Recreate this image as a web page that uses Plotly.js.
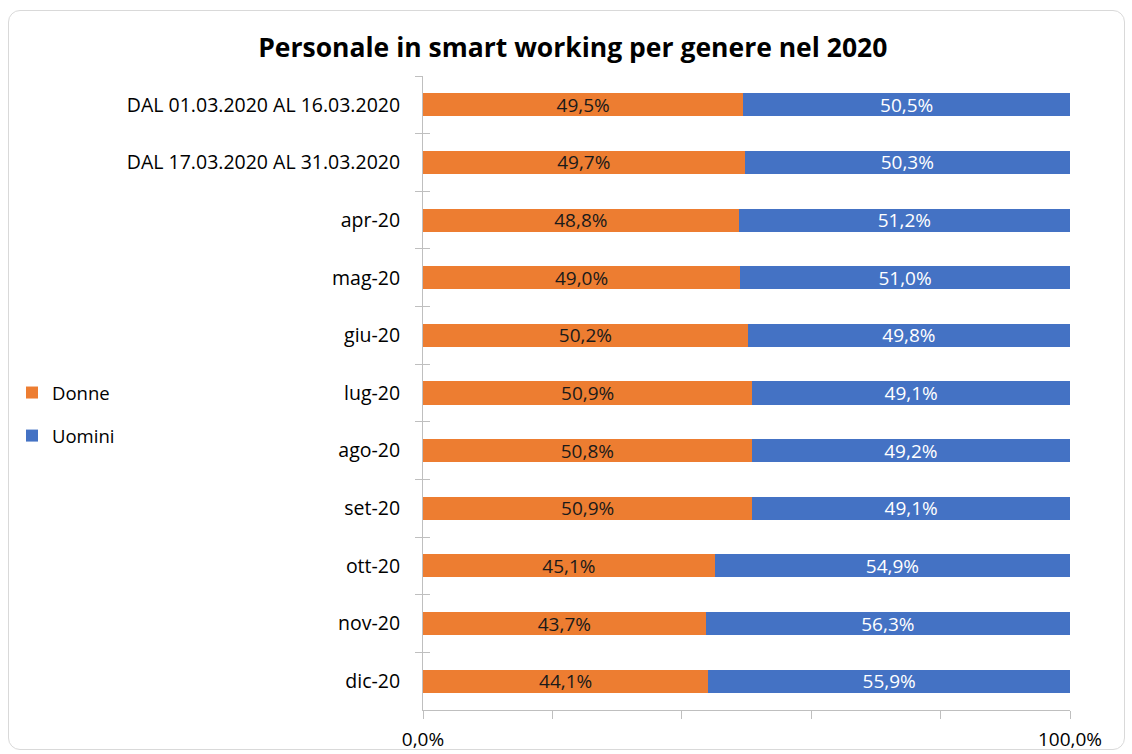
<!DOCTYPE html>
<html>
<head>
<meta charset="utf-8">
<script src="https://cdn.plot.ly/plotly-3.0.1.min.js"></script>
<style>
  html, body { margin: 0; padding: 0; background: #ffffff; }
  #frame { position: absolute; left: 8px; top: 10px; width: 1117px; height: 740px;
           border: 1px solid #d9d9d9; border-radius: 12px; box-sizing: border-box; }
  #chart { position: absolute; left: 0; top: 0; width: 1132px; height: 754px; }
</style>
</head>
<body>
<div id="frame"></div>
<div id="chart"></div>
<script>
const categories = [
  "DAL 01.03.2020 AL 16.03.2020",
  "DAL 17.03.2020 AL 31.03.2020",
  "apr-20", "mag-20", "giu-20", "lug-20", "ago-20", "set-20",
  "ott-20", "nov-20", "dic-20"
];
const donne  = [49.5, 49.7, 48.8, 49.0, 50.2, 50.9, 50.8, 50.9, 45.1, 43.7, 44.1];
const uomini = [50.5, 50.3, 51.2, 51.0, 49.8, 49.1, 49.2, 49.1, 54.9, 56.3, 55.9];
const xTickVals = [0, 0.2, 0.4, 0.6, 0.8, 1.0];
const xTickText = ["0,0%", "", "", "", "", "100,0%"];

const fmt = v => v.toFixed(1).replace('.', ',') + '%';
const FONT = '"Open Sans", "Noto Sans", sans-serif';

const traces = [
  {
    type: 'bar', orientation: 'h', name: 'Donne', legendgroup: 'd',
    y: categories, x: donne.map(v => v / 100),
    marker: { color: '#ED7D31' },
    text: donne.map(fmt), textposition: 'inside', insidetextanchor: 'middle',
    constraintext: 'none',
    textfont: { color: '#1a1a1a', size: 19, family: FONT },
    hoverinfo: 'skip'
  },
  {
    type: 'bar', orientation: 'h', name: 'Uomini', legendgroup: 'u',
    y: categories, x: uomini.map(v => v / 100),
    marker: { color: '#4472C4' },
    text: uomini.map(fmt), textposition: 'inside', insidetextanchor: 'middle',
    constraintext: 'none',
    textfont: { color: '#ffffff', size: 19, family: FONT },
    hoverinfo: 'skip'
  },
  {
    // invisible overlay trace used only to draw inside tick marks on the y axis
    type: 'bar', orientation: 'h', name: '', showlegend: false,
    y: categories, x: categories.map(() => 0), yaxis: 'y2',
    hoverinfo: 'skip', marker: { color: 'rgba(0,0,0,0)' }
  }
];

const layout = {
  width: 1132, height: 754,
  margin: { l: 423, r: 62, t: 76, b: 44 },
  paper_bgcolor: 'rgba(0,0,0,0)', plot_bgcolor: 'rgba(0,0,0,0)',
  barmode: 'stack', bargap: 0.6,
  font: { family: FONT, size: 19, color: '#262626' },
  title: {
    text: '<b>Personale in smart working per genere nel 2020</b>',
    font: { family: FONT, size: 26.5, color: '#000000' },
    xref: 'container', x: 0.506, xanchor: 'center',
    yref: 'container', y: 1 - 48 / 754, yanchor: 'middle'
  },
  showlegend: true,
  legend: {
    xref: 'container', yref: 'container',
    x: 0.0106, y: 1 - 374 / 754, xanchor: 'left', yanchor: 'top',
    traceorder: 'grouped', font: { family: FONT, size: 18.5, color: '#000' },
    itemwidth: 30, tracegroupgap: 16
  },
  xaxis: {
    range: [0, 1], tickvals: xTickVals, ticktext: xTickText,
    showgrid: false, zeroline: false,
    showline: true, linecolor: '#bfbfbf', linewidth: 1,
    ticks: 'outside', ticklen: 8, tickcolor: '#bfbfbf', ticklabelstandoff: 4,
    tickfont: { size: 19, color: '#000' }, fixedrange: true
  },
  yaxis: {
    type: 'category', categoryorder: 'array', categoryarray: categories,
    autorange: 'reversed',
    showgrid: false, zeroline: false,
    showline: true, linecolor: '#bfbfbf', linewidth: 1,
    ticks: 'outside', tickson: 'boundaries', ticklen: 7, tickcolor: '#bfbfbf',
    ticklabelstandoff: 18,
    tickfont: { size: 19.5, color: '#000' }, fixedrange: true
  },
  yaxis2: {
    type: 'category', categoryorder: 'array', categoryarray: categories,
    autorange: 'reversed', overlaying: 'y', side: 'left',
    showgrid: false, zeroline: false, showline: false,
    ticks: 'inside', tickson: 'boundaries', ticklen: 7, tickcolor: '#bfbfbf',
    showticklabels: false, fixedrange: true
  }
};

Plotly.newPlot('chart', traces, layout, { displayModeBar: false, staticPlot: true });
</script>
</body>
</html>
